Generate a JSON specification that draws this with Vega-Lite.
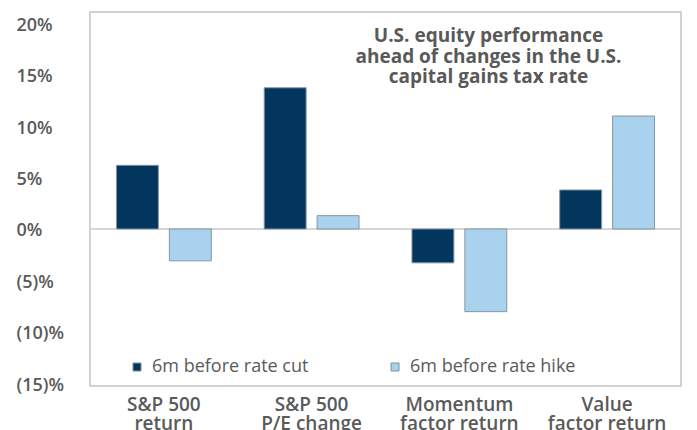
{
  "$schema": "https://vega.github.io/schema/vega-lite/v6.json",
  "width": 591,
  "height": 374,
  "autosize": {"type": "none"},
  "padding": {"left": 90, "top": 12, "right": 16, "bottom": 44},
  "background": "white",
  "config": {
    "view": {"stroke": "#c4c4c4", "strokeWidth": 1.5},
    "font": "Open Sans"
  },
  "title": {
    "text": ["U.S. equity performance", "ahead of changes in the U.S.", "capital gains tax rate"],
    "anchor": "middle",
    "baseline": "top",
    "offset": 0,
    "dx": 103,
    "dy": 75,
    "fontSize": 19,
    "fontWeight": "bold",
    "color": "#595959",
    "lineHeight": 20.5
  },
  "data": {
    "values": [
      {"cat": "S&P 500|return", "s": "6m before rate cut", "v": 6.2},
      {"cat": "S&P 500|return", "s": "6m before rate hike", "v": -3.1},
      {"cat": "S&P 500|P/E change", "s": "6m before rate cut", "v": 13.75},
      {"cat": "S&P 500|P/E change", "s": "6m before rate hike", "v": 1.3},
      {"cat": "Momentum|factor return", "s": "6m before rate cut", "v": -3.3},
      {"cat": "Momentum|factor return", "s": "6m before rate hike", "v": -8.05},
      {"cat": "Value|factor return", "s": "6m before rate cut", "v": 3.8},
      {"cat": "Value|factor return", "s": "6m before rate hike", "v": 11.0}
    ]
  },
  "layer": [
    {
      "mark": {"type": "rule", "color": "#d6d6d6", "strokeWidth": 1.5},
      "encoding": {
        "y": {"datum": 0, "type": "quantitative", "scale": {"domain": [-15.29, 21.13], "nice": false, "zero": false}}
      }
    },
    {
      "mark": {"type": "bar", "stroke": "#8796a3", "strokeWidth": 1},
      "encoding": {
        "x": {
          "field": "cat",
          "type": "nominal",
          "sort": null,
          "scale": {"paddingInner": 0, "paddingOuter": 0},
          "axis": {
            "title": null,
            "domain": false,
            "ticks": false,
            "labelAngle": 0,
            "labelExpr": "split(datum.label, '|')",
            "labelFontSize": 19,
            "labelFontWeight": 600,
            "labelColor": "#5a5a5a",
            "labelLineHeight": 19,
            "labelPadding": 9
          }
        },
        "xOffset": {
          "field": "s",
          "type": "nominal",
          "sort": ["6m before rate cut", "6m before rate hike"],
          "scale": {"paddingInner": 0.2075, "paddingOuter": 0.5}
        },
        "y": {
          "field": "v",
          "type": "quantitative",
          "scale": {"domain": [-15.29, 21.13], "nice": false, "zero": false},
          "axis": {
            "title": null,
            "domain": false,
            "ticks": false,
            "tickSize": 0,
            "grid": false,
            "values": [-15, -10, -5, 0, 5, 10, 15, 20],
            "labelExpr": "datum.value < 0 ? '(' + abs(datum.value) + ')%' : datum.value + '%'",
            "labelAlign": "left",
            "labelPadding": 74,
            "labelOffset": 2,
            "labelFontSize": 18,
            "labelFontWeight": 600,
            "labelColor": "#5a5a5a"
          }
        },
        "color": {
          "field": "s",
          "type": "nominal",
          "sort": ["6m before rate cut", "6m before rate hike"],
          "scale": {"domain": ["6m before rate cut", "6m before rate hike"], "range": ["#02365c", "#a9d2ef"]},
          "legend": {
            "title": null,
            "orient": "none",
            "direction": "horizontal",
            "legendX": 38,
            "legendY": 346,
            "symbolType": "square",
            "symbolSize": 64,
            "symbolStrokeColor": "#7f8f9c",
            "symbolStrokeWidth": 1,
            "labelFontSize": 18,
            "labelFontWeight": 500,
            "labelColor": "#5a5a5a",
            "labelOffset": 6,
            "columnPadding": 77,
            "labelLimit": 300
          }
        }
      }
    }
  ]
}
